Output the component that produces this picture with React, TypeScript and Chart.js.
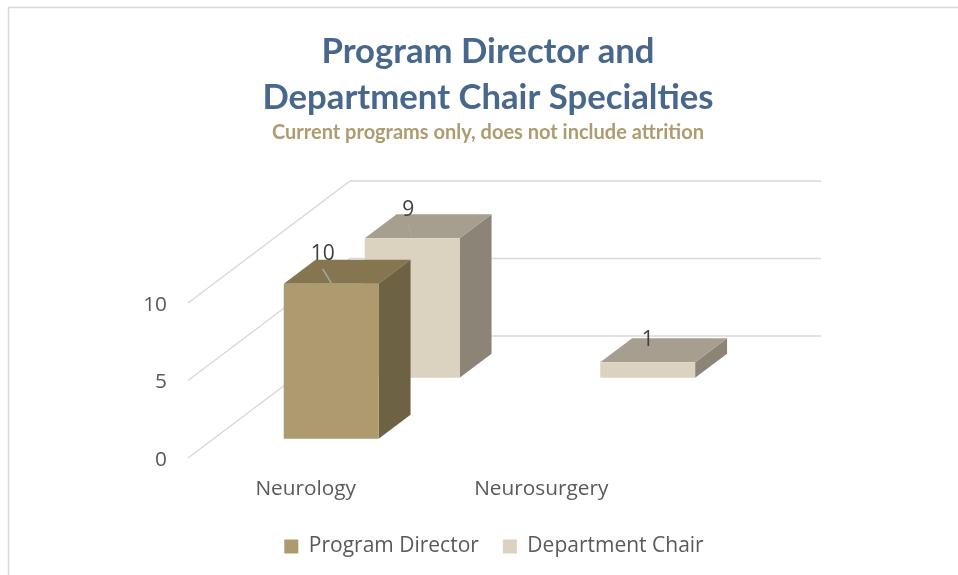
import React, { useEffect, useRef } from "react";
import { Chart, registerables } from "chart.js";

Chart.register(...registerables);

const categories = ["Neurology", "Neurosurgery"];
const programDirector = [10, null];
const departmentChair = [9, 1];
const titleLines = ["Program Director and", "Department Chair Specialties"];
const subtitleText = "Current programs only, does not include attrition";

const FACE = ["#ad9a6f", "#dbd3bf"];
const TOP = ["#857650", "#a69e8f"];
const SIDE = ["#6d6244", "#8c8577"];
const GRID = "#d9d9d9";
const DEPTH_X = 162;
const DEPTH_Y = 122;
const SERIES_Z = [0.157, 0.657];
const BAR_Z = 0.197;
// label placement relative to the top-centre of each bar's front face [dataset][category]
const LABEL_OFFSET = [
  [[-8.5, -30], [0, 0]],
  [[-4, -28], [0, -22]],
];
const LEADERS = [
  [[[-8.5, -15], [0, -1]], null],
  [[[-4, -13], [0, -1]], null],
];

const poly = (ctx: any, pts: number[][], color: string) => {
  ctx.beginPath();
  pts.forEach((p, i) => (i ? ctx.lineTo(p[0], p[1]) : ctx.moveTo(p[0], p[1])));
  ctx.closePath();
  ctx.fillStyle = color;
  ctx.fill();
};

const frame3d = {
  id: "frame3d",
  beforeInit(chart: any) {
    chart.ctx.letterSpacing = "0.01px";
  },
  afterLayout(chart: any) {
    const lg = chart.legend;
    const h = lg.bottom - lg.top;
    lg.left += 6;
    lg.right += 6;
    lg.top = 512;
    lg.bottom = 512 + h;
  },
  beforeDraw(chart: any) {
    const { ctx, width, height } = chart;
    ctx.save();
    ctx.strokeStyle = "#d9d9d9";
    ctx.lineWidth = 1.5;
    ctx.beginPath();
    ctx.moveTo(8.5, height);
    ctx.lineTo(8.5, 7.5);
    ctx.lineTo(width, 7.5);
    ctx.stroke();
    ctx.restore();
  },
  beforeDatasetsDraw(chart: any) {
    const { ctx, chartArea, scales } = chart;
    ctx.save();
    ctx.strokeStyle = GRID;
    ctx.lineWidth = 1.5;
    scales.y.ticks.forEach((t: any) => {
      const y = scales.y.getPixelForValue(t.value);
      ctx.beginPath();
      ctx.moveTo(chartArea.left, y);
      ctx.lineTo(chartArea.left + DEPTH_X, y - DEPTH_Y);
      ctx.lineTo(chartArea.right + DEPTH_X, y - DEPTH_Y);
      ctx.stroke();
    });
    ctx.restore();
  },
  beforeDatasetDraw(chart: any, args: any) {
    const { ctx } = chart;
    const i = args.index;
    const z = SERIES_Z[i];
    const ox = DEPTH_X * z;
    const oy = -DEPTH_Y * z;
    const dx = DEPTH_X * BAR_Z;
    const dy = -DEPTH_Y * BAR_Z;
    ctx.save();
    args.meta.data.forEach((el: any, j: number) => {
      const raw = chart.data.datasets[i].data[j];
      if (raw === null || raw === undefined) return;
      const l = el.x - el.width / 2 + ox;
      const r = el.x + el.width / 2 + ox;
      const t = el.y + oy;
      const b = el.base + oy;
      poly(ctx, [[r, t], [r + dx, t + dy], [r + dx, b + dy], [r, b]], SIDE[i]);
      poly(ctx, [[l, t], [l + dx, t + dy], [r + dx, t + dy], [r, t]], TOP[i]);
      poly(ctx, [[l, t], [r, t], [r, b], [l, b]], FACE[i]);
    });
    ctx.restore();
    return false;
  },
  afterDatasetsDraw(chart: any) {
    const { ctx } = chart;
    ctx.save();
    ctx.textAlign = "center";
    ctx.textBaseline = "middle";
    ctx.font = '21px "Open Sans"';
    chart.data.datasets.forEach((ds: any, i: number) => {
      const meta = chart.getDatasetMeta(i);
      const ox = DEPTH_X * SERIES_Z[i];
      const oy = -DEPTH_Y * SERIES_Z[i];
      meta.data.forEach((el: any, j: number) => {
        const raw = ds.data[j];
        if (raw === null || raw === undefined) return;
        const cx = el.x + ox;
        const cy = el.y + oy;
        const lead = LEADERS[i][j];
        if (lead) {
          ctx.strokeStyle = "#a6a6a6";
          ctx.lineWidth = 1.5;
          ctx.beginPath();
          ctx.moveTo(cx + lead[0][0], cy + lead[0][1]);
          ctx.lineTo(cx + lead[1][0], cy + lead[1][1]);
          ctx.stroke();
        }
        ctx.fillStyle = "#404040";
        ctx.fillText(String(raw), cx + LABEL_OFFSET[i][j][0], cy + LABEL_OFFSET[i][j][1]);
      });
    });
    ctx.restore();
  },
};

export default function App() {
  const ref = useRef<HTMLCanvasElement>(null);
  useEffect(() => {
    document.body.style.margin = "0";
    const chart = new Chart(ref.current as any, {
      type: "bar",
      data: {
        labels: categories,
        datasets: [
          { label: "Program Director", data: programDirector, backgroundColor: FACE[0], grouped: false, categoryPercentage: 1, barPercentage: 0.403 },
          { label: "Department Chair", data: departmentChair, backgroundColor: FACE[1], grouped: false, categoryPercentage: 1, barPercentage: 0.403 },
        ] as any,
      },
      options: {
        responsive: false,
        animation: false,
        layout: { padding: { left: 18, right: 0, top: 0, bottom: 0 } },
        scales: {
          x: {
            grid: { display: false, drawTicks: false },
            border: { display: false },
            ticks: { font: { family: "Open Sans", size: 20.8 }, color: "#595959", padding: 19, maxRotation: 0 },
            afterFit: (s: any) => { s.height = 62; },
          },
          y: {
            min: 0,
            max: 10,
            grid: { display: false, drawTicks: false },
            border: { display: false },
            ticks: { stepSize: 5, font: { family: "Open Sans", size: 20.8 }, color: "#595959", padding: 21, labelOffset: 2 },
            afterFit: (s: any) => { s.width = 170; },
          },
          yRight: {
            position: "right",
            grid: { display: false, drawTicks: false },
            border: { display: false },
            ticks: { display: false },
            afterFit: (s: any) => { s.width = 299; },
          },
        },
        plugins: {
          title: {
            display: true,
            text: titleLines,
            color: "#48678c",
            font: { family: "Lato", size: 34.7, weight: "bold", lineHeight: 46 / 34.7 },
            padding: { top: 29, bottom: 0 },
          },
          subtitle: {
            display: true,
            text: subtitleText,
            color: "#ae9b6f",
            font: { family: "Lato", size: 20, weight: "bold", lineHeight: 24 / 20 },
            padding: { top: 0, bottom: 158 },
          },
          legend: {
            position: "bottom",
            maxHeight: 62,
            labels: {
              boxWidth: 14,
              boxHeight: 14,
              padding: 24,
              color: "#595959",
              font: { family: "Open Sans", size: 21 },
            },
          },
          tooltip: { enabled: false },
        },
      },
      plugins: [frame3d],
    } as any);
    return () => chart.destroy();
  }, []);
  return <canvas ref={ref} width={958} height={575} style={{ display: "block" }} />;
}
